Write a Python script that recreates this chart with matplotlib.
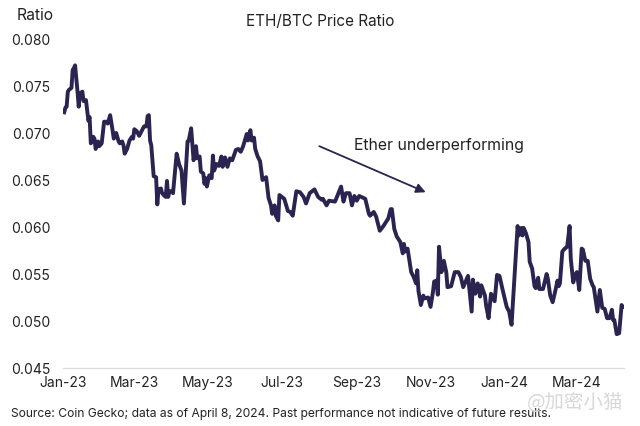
import pandas as pd
import matplotlib
matplotlib.use("Agg")
import matplotlib.pyplot as plt

plt.rcParams['font.family'] = ['Inter', 'DejaVu Sans']

# days since 2023-01-01
days = [1, 2, 3, 4, 5, 7, 8, 9, 10, 12, 13, 14, 16, 17, 19, 21, 22, 23, 25, 26, 27, 29, 30, 32, 34, 36, 37, 39,
        41, 42, 43, 44, 46, 47, 49, 50, 51, 53, 55, 57, 58, 59, 61, 63, 65, 67, 69, 70, 71, 72, 73, 75, 77, 78,
        79, 81, 82, 84, 85, 86, 87, 88, 90, 91, 94, 96, 98, 100, 103, 104, 106, 108, 110, 111, 113, 114, 116,
        117, 118, 119, 121, 123, 124, 125, 127, 129, 131, 132, 134, 136, 138, 140, 143, 145, 147, 149, 152,
        153, 155, 156, 158, 159, 161, 163, 165, 168, 170, 172, 173, 175, 176, 178, 179, 182, 183, 186, 188,
        190, 193, 196, 199, 201, 204, 208, 211, 214, 215, 218, 220, 225, 230, 232, 234, 237, 239, 241, 243,
        245, 250, 253, 254, 257, 259, 262, 265, 269, 271, 272, 274, 276, 279, 281, 282, 283, 285, 288, 290,
        292, 293, 294, 296, 298, 299, 302, 304, 306, 307, 309, 310, 311, 313, 315, 317, 318, 321, 324, 327,
        329, 331, 335, 338, 339, 341, 343, 345, 346, 349, 350, 352, 354, 357, 359, 361, 364, 367, 369, 371,
        374, 376, 377, 379, 380, 381, 383, 385, 386, 388, 390, 391, 393, 394, 397, 400, 401, 403, 405, 407,
        409, 410, 411, 413, 415, 417, 419, 420, 422, 424, 425, 427, 429, 430, 432, 434, 436, 438, 439, 442,
        444, 446, 448, 450, 452, 454, 455, 456, 458, 460, 462, 463]
ratio = [.0722, .0727, .0728, .0744, .0746, .0748, .0767, .0769, .0772, .0744, .0728, .0742, .0744, .0734,
         .0735, .0713, .0717, .0689, .0696, .0694, .0683, .0691, .0686, .0689, .0712, .0712, .0710, .0719,
         .0703, .0694, .0699, .0700, .0691, .0689, .0691, .0687, .0678, .0683, .0692, .0696, .0694, .0704,
         .0702, .0697, .0702, .0707, .0707, .0718, .0719, .0692, .0687, .0654, .0653, .0624,
         .0640, .0641, .0636, .0633, .0632, .0649, .0632, .0638, .0638, .0636, .0678, .0667, .0660, .0625,
         .0691, .0692, .0705, .0671, .0686, .0673, .0675, .0659, .0657,
         .0646, .0652, .0643, .0655, .0652, .0676, .0660, .0667, .0665, .0675, .0664, .0674, .0664, .0673,
         .0671, .0682, .0683, .0680, .0686, .0699,
         .0692, .0703, .0692, .0695, .0683, .0675, .0670, .0650, .0653, .0631, .0623, .0614, .0623, .0612,
         .0607, .0634, .0631, .0630, .0617, .0616,
         .0612, .0638, .0637, .0632, .0625, .0636, .0640, .0632, .0629, .0630, .0623, .0628, .0627, .0643,
         .0627, .0636, .0636, .0623, .0633, .0628,
         .0633, .0630, .0614, .0612, .0616, .0611, .0596, .0601, .0609, .0619, .0619, .0598, .0590, .0584,
         .0572, .0582, .0574, .0577, .0552, .0547,
         .0540, .0554, .0532, .0517, .0527, .0524, .0525, .0515, .0531, .0542, .0543, .0528, .0579, .0552,
         .0564, .0552, .0536, .0537, .0552, .0552,
         .0547, .0536, .0548, .0510, .0544, .0529, .0540, .0526, .0538, .0527, .0516, .0503, .0529, .0521,
         .0549, .0548, .0531, .0515, .0510, .0496,
         .0559, .0601, .0591, .0599, .0591, .0599, .0593, .0584, .0563, .0556, .0537, .0535, .0546, .0534,
         .0534, .0550, .0545, .0527, .0520, .0531,
         .0543, .0537, .0540, .0574, .0577, .0579, .0601, .0566, .0541, .0550, .0552, .0533, .0577, .0576,
         .0564, .0564, .0545, .0538, .0536, .0510,
         .0533, .0514, .0513, .0503, .0503, .0512, .0501, .0501, .0486, .0487, .0517, .0515]
y_ticks = [0.045, 0.050, 0.055, 0.060, 0.065, 0.070, 0.075, 0.080]
x_tick_dates = ['2023-01-01', '2023-03-01', '2023-05-01', '2023-07-01',
                '2023-09-01', '2023-11-01', '2024-01-01', '2024-03-01']
x_tick_labels = ['Jan-23', 'Mar-23', 'May-23', 'Jul-23', 'Sep-23', 'Nov-23', 'Jan-24', 'Mar-24']

start = pd.Timestamp('2023-01-01')
dates = start + pd.to_timedelta(days, unit='D')
line_color = '#2b2350'
text_color = '#222222'

fig = plt.figure(figsize=(6.4, 4.27), dpi=100)
ax = fig.add_axes([63 / 640, 58 / 427, 561 / 640, 329 / 427])
ax.plot(dates, ratio, color=line_color, linewidth=2.8, solid_joinstyle='round')

ax.set_xlim(start, start + pd.Timedelta(days=464))
ax.set_ylim(0.045, 0.080)
ax.set_yticks(y_ticks)
ax.set_yticklabels([f'{v:.3f}' for v in y_ticks])
ax.set_xticks(pd.to_datetime(x_tick_dates))
ax.set_xticklabels(x_tick_labels)
ax.tick_params(axis='both', length=0, labelsize=10, labelcolor=text_color)
ax.tick_params(axis='x', pad=5)
ax.tick_params(axis='y', pad=9)

for side in ['top', 'left', 'right']:
    ax.spines[side].set_visible(False)
ax.spines['bottom'].set_color('#dddddd')
ax.spines['bottom'].set_linewidth(1)

# arrow and its note
ax.annotate('', xy=(start + pd.Timedelta(days=300), 0.0637),
            xytext=(start + pd.Timedelta(days=212), 0.0686),
            arrowprops=dict(arrowstyle='-|>', color=line_color, lw=1.3, mutation_scale=14,
                            shrinkA=0, shrinkB=0))
ax.text(start + pd.Timedelta(days=241), 0.0688, 'Ether underperforming',
        fontsize=11.4, color=text_color, va='center', ha='left')

fig.text(320 / 640, 1 - 22 / 427, 'ETH/BTC Price Ratio', fontsize=11, color=text_color, ha='center', va='center')
fig.text(17 / 640, 1 - 15 / 427, 'Ratio', fontsize=11.3, color=text_color, ha='left', va='center')
fig.text(11 / 640, 1 - 414 / 427,
         'Source: Coin Gecko; data as of April 8, 2024. Past performance not indicative of future results.',
         fontsize=8.7, color=text_color, ha='left', va='center')
fig.text(527 / 640, 1 - 403 / 427, '@加密小猫', fontsize=14, color='#d8d8d8', ha='left', va='center',
         family=['Noto Sans CJK SC', 'DejaVu Sans'])

fig.savefig('out.png', dpi=100)
